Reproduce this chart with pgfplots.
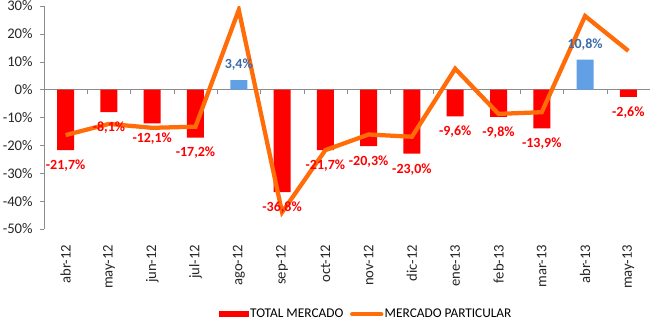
\documentclass[border=0pt]{standalone}
\usepackage{pgfplots}
\pgfplotsset{compat=1.18}
\usepackage{fontspec}
\setmainfont{Carlito}
\definecolor{barred}{RGB}{255,0,0}
\definecolor{barblue}{RGB}{98,160,230}
\definecolor{lblblue}{RGB}{60,108,168}
\definecolor{lineorange}{RGB}{255,108,8}
\definecolor{axgray}{RGB}{140,140,140}
\begin{document}
\begin{tikzpicture}[x=1pt,y=1pt]
\useasboundingbox (-33,-75) rectangle (454.5,171.75);
\begin{axis}[at={(0,0)}, anchor=south west, scale only axis,
  width=454.5pt, height=167.25pt,
  xmin=-0.5, xmax=13.5, ymin=-50, ymax=30,
  axis x line=middle, axis y line=none,
  axis line style={draw=axgray,-},
  xtick={-0.5,0.5,...,13.5}, xticklabels={}, ytick=\empty,
  x tick style={draw=axgray}, major tick length=3pt, xtick align=outside]
\end{axis}
\begin{axis}[at={(0,0)}, anchor=south west, scale only axis,
  width=454.5pt, height=167.25pt,
  xmin=-0.5, xmax=13.5, ymin=-50, ymax=30,
  axis x line=bottom, axis y line=left,
  x axis line style={draw=none,-},
  y axis line style={draw=axgray,-},
  xtick={0,...,13},
  xticklabels={abr-12,may-12,jun-12,jul-12,ago-12,sep-12,oct-12,nov-12,dic-12,ene-13,feb-13,mar-13,abr-13,may-13},
  major x tick style={draw=none},
  ytick={-50,-40,...,30},
  y tick style={draw=axgray}, major tick length=3pt, ytick align=outside,
  /pgf/number format/assume math mode=true,
  yticklabel={\pgfmathprintnumber{\tick}\%},
  tick label style={font=\fontsize{11}{13}\selectfont, text=black!85},
  yticklabel style={xshift=-2pt},
  xticklabel style={yshift=-6.75pt, rotate=90, anchor=east},
  legend style={at={(0.531,-0.382)}, anchor=center, draw=none, fill=none,
    legend columns=2, font=\fontsize{10}{12}\selectfont,
    nodes={inner xsep=1pt},
    /tikz/every even column/.append style={column sep=4pt}},
]
\addplot[ybar, bar width=12.75pt, bar shift=0pt, fill=barred, draw=none,
  legend image code/.code={\fill[barred] (0pt,-2.25pt) rectangle (22.5pt,2.25pt);}]
  coordinates {(0,-21.7)(1,-8.1)(2,-12.1)(3,-17.2)(5,-36.8)(6,-21.7)(7,-20.3)(8,-23.0)(9,-9.6)(10,-9.8)(11,-13.9)(13,-2.6)};
\addlegendentry{TOTAL MERCADO}
\addplot[ybar, bar width=12.75pt, bar shift=0pt, fill=barblue, draw=none, forget plot]
  coordinates {(4,3.4)(12,10.8)};
\addplot[lineorange, line width=3.2pt, mark=none,
  legend image code/.code={\draw[lineorange, line width=3pt, line cap=round] (1pt,0pt) -- (23pt,0pt);}]
  coordinates {(0,-16.3)(1,-12.3)(2,-13.7)(3,-13.3)(4,28.6)(5,-44)(6,-21.7)(7,-16.1)(8,-16.9)(9,7.5)(10,-8.7)(11,-8.1)(12,26.4)(13,13.9)};
\addlegendentry{MERCADO PARTICULAR}
\addplot[forget plot, only marks, mark=none,
  nodes near coords={\pgfmathprintnumber[fixed,fixed zerofill,precision=1,use comma]{\pgfplotspointmeta}\%},
  nodes near coords style={font=\bfseries\fontsize{10.5}{12}\selectfont, text=barred, anchor=center, yshift=-11.6pt}]
  coordinates {(0,-21.7)(1,-8.1)(2,-12.1)(3,-17.2)(5,-36.8)(6,-21.7)(7,-20.3)(8,-23.0)(9,-9.6)(10,-9.8)(11,-13.9)(13,-2.6)};
\addplot[forget plot, only marks, mark=none,
  nodes near coords={\pgfmathprintnumber[fixed,fixed zerofill,precision=1,use comma]{\pgfplotspointmeta}\%},
  nodes near coords style={font=\bfseries\fontsize{10.5}{12}\selectfont, text=lblblue, anchor=center, yshift=11.3pt}]
  coordinates {(4,3.4)(12,10.8)};
\end{axis}
\end{tikzpicture}
\end{document}
